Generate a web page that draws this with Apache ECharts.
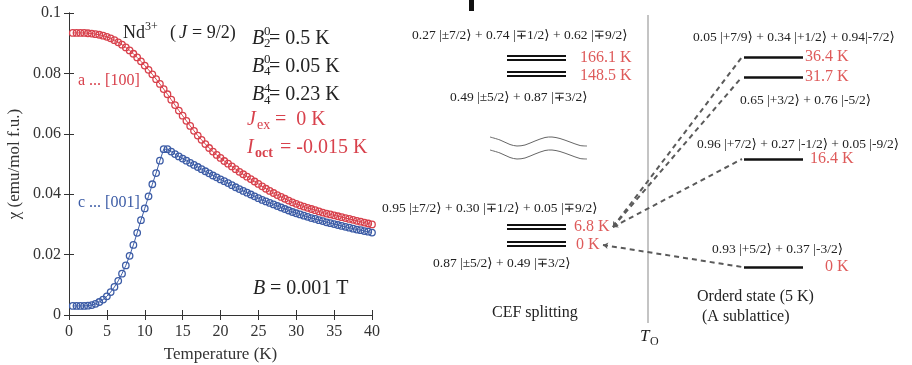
<!DOCTYPE html>
<html>
<head>
<meta charset="utf-8">
<script src="https://cdn.jsdelivr.net/npm/echarts@6/dist/echarts.min.js"></script>
<style>
  html, body { margin: 0; padding: 0; background: #fff; }
  #main { width: 912px; height: 365px; }
</style>
</head>
<body>
<div id="main"></div>
<script>
// susceptibility vs temperature (0.5 K steps)
const temps = [0.5, 1, 1.5, 2, 2.5, 3, 3.5, 4, 4.5, 5, 5.5, 6, 6.5, 7, 7.5, 8, 8.5, 9, 9.5, 10,
  10.5, 11, 11.5, 12, 12.5, 13, 13.5, 14, 14.5, 15, 15.5, 16, 16.5, 17, 17.5, 18, 18.5, 19, 19.5, 20,
  20.5, 21, 21.5, 22, 22.5, 23, 23.5, 24, 24.5, 25, 25.5, 26, 26.5, 27, 27.5, 28, 28.5, 29, 29.5, 30,
  30.5, 31, 31.5, 32, 32.5, 33, 33.5, 34, 34.5, 35, 35.5, 36, 36.5, 37, 37.5, 38, 38.5, 39, 39.5, 40];

// a ... [100]
const chiA = [0.0934, 0.0934, 0.0934, 0.0934, 0.0933, 0.0932, 0.0930, 0.0928, 0.0925, 0.0921,
  0.0916, 0.0910, 0.0903, 0.0895, 0.0886, 0.0876, 0.0865, 0.0853, 0.0840, 0.0826,
  0.0812, 0.0797, 0.0781, 0.0765, 0.0748, 0.0731, 0.0713, 0.0695, 0.0677, 0.0660,
  0.0643, 0.0626, 0.0610, 0.0594, 0.0580, 0.0566, 0.0553, 0.0541, 0.0530, 0.0520,
  0.0510, 0.0501, 0.0492, 0.0483, 0.0474, 0.0466, 0.0458, 0.0450, 0.0442, 0.0434,
  0.0426, 0.0418, 0.0411, 0.0404, 0.0397, 0.0391, 0.0385, 0.0379, 0.0373, 0.0368,
  0.0363, 0.0359, 0.0355, 0.0351, 0.0347, 0.0343, 0.0339, 0.0336, 0.0333, 0.0330,
  0.0327, 0.0324, 0.0321, 0.0318, 0.0315, 0.0312, 0.0309, 0.0306, 0.0303, 0.0300];

// c ... [001]
const chiC = [0.0030, 0.0030, 0.0030, 0.0030, 0.0031, 0.0033, 0.0037, 0.0043, 0.0051, 0.0062,
  0.0076, 0.0093, 0.0113, 0.0137, 0.0164, 0.0196, 0.0232, 0.0272, 0.0314, 0.0353,
  0.0393, 0.0433, 0.0470, 0.0511, 0.0549, 0.0549, 0.0541, 0.0533, 0.0525, 0.0518,
  0.0511, 0.0504, 0.0497, 0.0490, 0.0483, 0.0476, 0.0469, 0.0462, 0.0456, 0.0449,
  0.0443, 0.0437, 0.0430, 0.0423, 0.0417, 0.0411, 0.0405, 0.0399, 0.0393, 0.0387,
  0.0381, 0.0376, 0.0371, 0.0366, 0.0361, 0.0356, 0.0351, 0.0346, 0.0341, 0.0337,
  0.0333, 0.0329, 0.0325, 0.0321, 0.0318, 0.0314, 0.0311, 0.0307, 0.0304, 0.0301,
  0.0298, 0.0295, 0.0292, 0.0289, 0.0286, 0.0283, 0.0281, 0.0278, 0.0276, 0.0273];

// level scheme (schematic rows, measured from top of the panel)
const cefLabels = ['0 K', '6.8 K', '148.5 K', '166.1 K'];
const cefRows = [244, 227, 73.5, 57.5];
const cefStates = [
  '0.87 |\u00b15/2\u27e9 + 0.49 |\u22133/2\u27e9',
  '0.95 |\u00b17/2\u27e9 + 0.30 |\u22131/2\u27e9 + 0.05 |\u22139/2\u27e9',
  '0.49 |\u00b15/2\u27e9 + 0.87 |\u22133/2\u27e9',
  '0.27 |\u00b17/2\u27e9 + 0.74 |\u22131/2\u27e9 + 0.62 |\u22139/2\u27e9'
];
const ordLabels = ['0 K', '16.4 K', '31.7 K', '36.4 K'];
const ordRows = [267, 159, 77, 57];
const ordStates = [
  '0.93 |+5/2\u27e9 + 0.37 |-3/2\u27e9',
  '0.96 |+7/2\u27e9 + 0.27 |-1/2\u27e9 + 0.05 |-9/2\u27e9',
  '0.65 |+3/2\u27e9 + 0.76 |-5/2\u27e9',
  '0.05 |+7/9\u27e9 + 0.34 |+1/2\u27e9 + 0.94|-7/2\u27e9'
];
// which CEF doublet feeds which ordered level: [cef index, ordered index]
const links = [[0, 0], [1, 1], [1, 2], [1, 3]];

const RED = '#d8414c';
const BLUE = '#3c5ca6';
const LRED = '#de5a5a';
const INK = '#222';
const SERIF = '"Liberation Serif", "DejaVu Serif", serif';

// level bars live in their own grid, x from 380 to 912 and y in panel rows
const cefX = [507, 566];
const ordX = [744, 803];

const cefBars = [];
cefRows.forEach(function (r) {
  cefBars.push({ coords: [[cefX[0], r - 2], [cefX[1], r - 2]] });
  cefBars.push({ coords: [[cefX[0], r + 2], [cefX[1], r + 2]] });
});
const ordBars = ordRows.map(function (r) {
  return { coords: [[ordX[0], r], [ordX[1], r]] };
});
const linkLines = links.map(function (l) {
  const from = l[0] === 0 ? [603, cefRows[0] + 1] : [613, cefRows[1]];
  return { coords: [from, [ordX[0] - 2, ordRows[l[1]]]] };
});

function txt(x, y, s, size, extra) {
  return {
    type: 'text', x: x, y: y, silent: true,
    style: Object.assign({
      text: s, font: size + 'px ' + SERIF, fill: INK,
      textAlign: 'left', textVerticalAlign: 'middle'
    }, extra || {})
  };
}
function ital(size) { return 'italic ' + size + 'px ' + SERIF; }

const texts = [
  // left panel annotations
  txt(123, 33, 'Nd', 18),
  txt(145, 27, '3+', 12),
  txt(170, 33, '(', 18),
  txt(179, 33, 'J', 18, { font: ital(18) }),
  txt(192, 33, '= 9/2)', 18),

  txt(252, 38.5, 'B', 20, { font: ital(20) }),
  txt(264, 32, '0', 13), txt(264, 44, '2', 13),
  txt(269, 38.5, '= 0.5 K', 20),
  txt(252, 66.5, 'B', 20, { font: ital(20) }),
  txt(264, 60, '0', 13), txt(264, 72, '4', 13),
  txt(269, 66.5, '= 0.05 K', 20),
  txt(252, 95, 'B', 20, { font: ital(20) }),
  txt(264, 88.5, '4', 13), txt(264, 100.5, '4', 13),
  txt(269, 95, '= 0.23 K', 20),

  txt(247, 120, 'J', 20, { font: ital(20), fill: RED }),
  txt(257, 125, 'ex', 14, { fill: RED }),
  txt(275, 120, '=  0 K', 20, { fill: RED }),
  txt(247, 148, 'I', 20, { font: ital(20), fill: RED }),
  txt(255, 153, 'oct', 14, { font: 'bold 14px ' + SERIF, fill: RED }),
  txt(280, 148, '= -0.015 K', 20, { fill: RED }),

  txt(78, 81, 'a ... [100]', 16, { fill: RED }),
  txt(78, 203, 'c ... [001]', 16, { fill: BLUE }),

  txt(253, 289, 'B', 20, { font: ital(20) }),
  txt(270, 289, '= 0.001 T', 20),

  // right panel
  txt(412, 35, cefStates[3], 13.5),
  txt(450, 97, cefStates[2], 13.5),
  txt(382, 208, cefStates[1], 13.5),
  txt(433, 263, cefStates[0], 13.5),
  txt(580, 58, cefLabels[3], 16, { fill: LRED }),
  txt(580, 76, cefLabels[2], 16, { fill: LRED }),
  txt(574, 227, cefLabels[1], 16, { fill: LRED }),
  txt(576, 245, cefLabels[0], 16, { fill: LRED }),
  txt(492, 313, 'CEF splitting', 16),

  txt(693, 37, ordStates[3], 13.5),
  txt(740, 100, ordStates[2], 13.5),
  txt(697, 144, ordStates[1], 13.5),
  txt(712, 249, ordStates[0], 13.5),
  txt(805, 57, ordLabels[3], 16, { fill: LRED }),
  txt(805, 77, ordLabels[2], 16, { fill: LRED }),
  txt(810, 159, ordLabels[1], 16, { fill: LRED }),
  txt(825, 267, ordLabels[0], 16, { fill: LRED }),
  txt(697, 297, 'Orderd state (5 K)', 16),
  txt(702, 317, '(A sublattice)', 16),
  txt(640, 337, 'T', 17, { font: ital(17) }),
  txt(650, 342, 'O', 12)
];

// hand-traced break waves between the low and high CEF levels
const wave1 = [[490, 137], [500, 140], [510, 144.5], [517, 146], [525, 145], [535, 141],
  [545, 137.5], [552, 137], [560, 138.5], [570, 142], [580, 145.5], [587, 146]];
const wave2 = wave1.map(function (p) { return [p[0], p[1] + 13]; });

const decor = [
  // T_O divider
  { type: 'line', silent: true, shape: { x1: 648, y1: 15, x2: 648, y2: 323 },
    style: { stroke: '#c4c4c4', lineWidth: 2 } },
  { type: 'polyline', silent: true, shape: { points: wave1, smooth: 0.3 },
    style: { stroke: '#666', lineWidth: 1, fill: null } },
  { type: 'polyline', silent: true, shape: { points: wave2, smooth: 0.3 },
    style: { stroke: '#666', lineWidth: 1, fill: null } },
  // small dark mark at the top edge
  { type: 'rect', silent: true, shape: { x: 469, y: 0, width: 5, height: 11 },
    style: { fill: '#111' } }
];

const axisLine = { show: true, lineStyle: { color: '#333', width: 1 } };
const axisTick = { show: true, inside: true, length: 5, lineStyle: { color: '#333', width: 1 } };
const labelStyle = { fontFamily: SERIF, fontSize: 16, color: '#333' };

const chart = echarts.init(document.getElementById('main'), null, { renderer: 'canvas' });
chart.setOption({
  animation: false,
  backgroundColor: '#fff',
  grid: [
    { left: 69, right: 540, top: 13, bottom: 50, containLabel: false, outerBoundsMode: 'none' },
    { left: 380, right: 0, top: 0, bottom: 0, containLabel: false, outerBoundsMode: 'none' }
  ],
  xAxis: [
    {
      gridIndex: 0, type: 'value', min: 0, max: 40, interval: 5, position: 'bottom',
      axisLine: axisLine, axisTick: axisTick, splitLine: { show: false },
      axisLabel: Object.assign({ margin: 9 }, labelStyle),
      name: 'Temperature (K)', nameLocation: 'middle', nameGap: 31,
      nameTextStyle: { fontFamily: SERIF, fontSize: 17, color: '#333' }
    },
    {
      gridIndex: 0, type: 'value', min: 0, max: 40, interval: 5, position: 'top',
      axisLine: axisLine, axisTick: axisTick, splitLine: { show: false },
      axisLabel: { show: false }
    },
    { gridIndex: 1, type: 'value', min: 380, max: 912, show: false }
  ],
  yAxis: [
    {
      gridIndex: 0, type: 'value', min: 0, max: 0.1, interval: 0.02, position: 'left',
      axisLine: axisLine, axisTick: axisTick, splitLine: { show: false },
      axisLabel: Object.assign({ margin: 8 }, labelStyle),
      name: '\u03c7 (emu/mol f.u.)', nameLocation: 'middle', nameGap: 46, nameRotate: 90,
      nameTextStyle: { fontFamily: SERIF, fontSize: 17, color: '#333' }
    },
    {
      gridIndex: 0, type: 'value', min: 0, max: 0.1, interval: 0.02, position: 'right',
      axisLine: axisLine, axisTick: axisTick, splitLine: { show: false },
      axisLabel: { show: false }
    },
    { gridIndex: 1, type: 'value', min: 0, max: 365, inverse: true, show: false }
  ],
  series: [
    {
      name: 'a ... [100]', type: 'line', xAxisIndex: 0, yAxisIndex: 0,
      data: temps.map(function (t, i) { return [t, chiA[i]]; }),
      symbol: 'circle', symbolSize: 6.5,
      itemStyle: { color: 'rgba(255,255,255,0)', borderColor: RED, borderWidth: 1.3 },
      lineStyle: { color: RED, width: 1 }
    },
    {
      name: 'c ... [001]', type: 'line', xAxisIndex: 0, yAxisIndex: 0,
      data: temps.map(function (t, i) { return [t, chiC[i]]; }),
      symbol: 'circle', symbolSize: 6.5,
      itemStyle: { color: 'rgba(255,255,255,0)', borderColor: BLUE, borderWidth: 1.3 },
      lineStyle: { color: BLUE, width: 1 }
    },
    {
      name: 'CEF', type: 'lines', coordinateSystem: 'cartesian2d', xAxisIndex: 2, yAxisIndex: 2,
      data: cefBars, lineStyle: { color: '#111', width: 2.2, opacity: 1 }
    },
    {
      name: 'ordered', type: 'lines', coordinateSystem: 'cartesian2d', xAxisIndex: 2, yAxisIndex: 2,
      data: ordBars, lineStyle: { color: '#111', width: 2.5, opacity: 1 }
    },
    {
      name: 'links', type: 'lines', coordinateSystem: 'cartesian2d', xAxisIndex: 2, yAxisIndex: 2,
      data: linkLines, symbol: ['arrow', 'none'], symbolSize: 5,
      lineStyle: { color: '#5a5a5a', width: 2, type: [5, 4], opacity: 1 }
    }
  ],
  graphic: decor.concat(texts)
});
</script>
</body>
</html>
